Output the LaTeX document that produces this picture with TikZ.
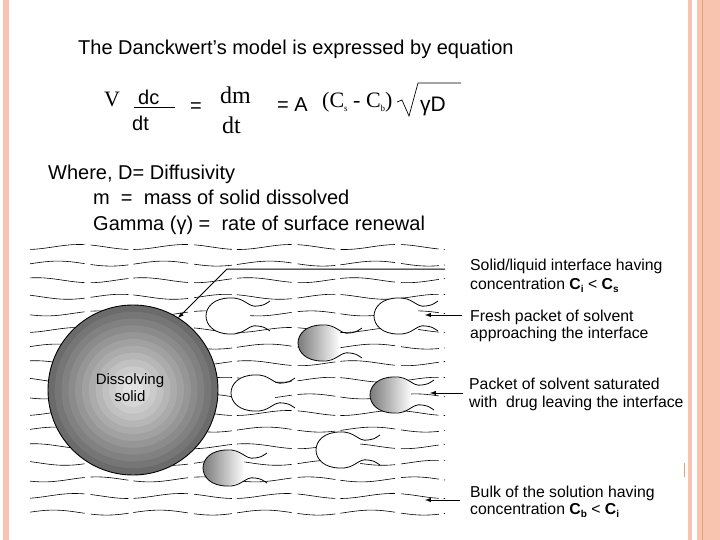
\documentclass[tikz,border=0pt]{standalone}
\usepackage{fontspec}
\setmainfont{Liberation Sans}
\newfontfamily\seriff{Liberation Serif}
\definecolor{peach}{RGB}{248,196,176}
\definecolor{peachline}{RGB}{236,160,120}
\begin{document}
\begin{tikzpicture}[x=1pt,y=-1pt,
  wave/.style={line width=0.6pt},
  lab/.style={anchor=base west,font=\fontsize{15.8}{17}\selectfont,inner sep=0pt},
  arr/.style={-latex,line width=1pt},
  txt/.style={anchor=base west,inner sep=0pt,font=\fontsize{20}{22}\selectfont}]
\useasboundingbox (0,0) rectangle (720,540);
% decorative bars
\fill[peach] (3,0) rectangle (9,540);
\fill[peach] (688,0) rectangle (692,540);
\fill[peach] (697,0) rectangle (720,540);
\draw[peachline,line width=0.8pt] (702,0) -- (702,540);
\draw[peachline,line width=1pt] (684,463) -- (684,477);
% text
\node[txt] (title) at (78,55) {The Danckwert’s model is expressed by equation};
\node[txt,font=\seriff\fontsize{22}{22}\selectfont] (V) at (104,107) {V};
\node[txt] (dc) at (138,105) {dc};
\draw[line width=1pt] (134,108) -- (175,108);
\node[txt] (dt1) at (132,131) {dt};
\node[txt] (eq1) at (190,113) {=};
\node[txt,font=\seriff\fontsize{24}{22}\selectfont] (dm) at (220,104) {dm};
\node[txt,font=\seriff\fontsize{24}{22}\selectfont] (dt2) at (222,134) {dt};
\node[txt] (eq2) at (277,112) {=\ A};
\node[txt,font=\seriff\fontsize{22}{22}\selectfont] (cs) at (322,108) {(C\raisebox{-0.3ex}{\fontsize{9}{9}\selectfont s} - C\raisebox{-0.3ex}{\fontsize{9}{9}\selectfont b})};
\draw[line width=0.7pt] (397,102) -- (402,100) -- (409,116) -- (418,83) -- (461,83);
\node[txt,font=\fontsize{21}{22}\selectfont] (gd) at (420,112) {γD};
\node[txt] (w1) at (48,180) {Where, D= Diffusivity};
\node[txt] (w2) at (93,205) {m \ = \ mass of solid dissolved};
\node[txt] (w3) at (93,230) {Gamma (γ) = \ rate of surface renewal};
% waves
\foreach \i in {0,...,16}{
  \pgfmathsetmacro{\yy}{247+16.6*\i}
  \pgfmathsetmacro{\ph}{mod(\i*73,360)}
  \draw[wave,dash pattern=on 55pt off 6pt on 38pt off 5pt] plot[domain=30:445,samples=90,smooth] (\x,{\yy+2.5*sin(\x*3.4+\ph)});
}
% dissolving solid
\foreach \k in {0,...,11}{
  \pgfmathsetmacro{\r}{85*(1-\k/12.5)}
  \pgfmathsetmacro{\g}{58-4.2*\k}
  \fill[black!\g!white,draw=none] (133,390) circle (\r);
}
\draw[line width=0.9pt] (133,390) circle (85);
\node[align=center,font=\fontsize{15}{17}\selectfont] (ds) at (130,388) {Dissolving\\solid};
% packets
\tikzset{
 pkpath/.style={line width=0.8pt},
 openpk/.pic={
  \fill[white] (10,-18) .. controls (-22,-18) and (-22,18) .. (10,18) -- (30,14) -- (30,-14) -- cycle;
  \draw[pkpath] (50,-15) .. controls (44,-11) .. (38,-10) .. controls (28,-8) and (25,-19) .. (10,-18)
   .. controls (-22,-18) and (-22,18) .. (10,18) .. controls (25,19) and (28,8) .. (38,10) .. controls (44,11) .. (50,15);
 },
 fullpk/.pic={
  \shade[left color=black!62,right color=white] (10,-18) .. controls (-22,-18) and (-22,18) .. (10,18) -- (26,14) -- (28,-14) -- cycle;
  \draw[pkpath] (50,-15) .. controls (44,-11) .. (38,-10) .. controls (28,-8) and (25,-19) .. (10,-18)
   .. controls (-22,-18) and (-22,18) .. (10,18) .. controls (25,19) and (28,8) .. (38,10) .. controls (44,11) .. (50,15);
 }}
\pic at (220,316) {openpk};
\pic at (388,316) {openpk};
\pic at (245,393) {openpk};
\pic at (330,450) {openpk};
\pic at (312,343) {fullpk};
\pic at (384,395) {fullpk};
\pic at (217,468) {fullpk};
% labels
\node[lab] (l1) at (470,270) {Solid/liquid interface having};
\node[lab] (l1b) at (470,289) {concentration \textbf{C\raisebox{-0.4ex}{\fontsize{10}{10}\selectfont i}} < \textbf{C\raisebox{-0.4ex}{\fontsize{10}{10}\selectfont s}}};
\node[lab] (l2) at (470,321) {Fresh packet of solvent};
\node[lab] (l2b) at (470,338) {approaching the interface};
\node[lab] (l3) at (469,389) {Packet of solvent saturated};
\node[lab] (l3b) at (469,407) {with \ drug leaving the interface};
\node[lab] (l4) at (470,497) {Bulk of the solution having};
\node[lab] (l4b) at (470,514) {concentration \textbf{C\raisebox{-0.4ex}{\fontsize{10}{10}\selectfont b}} < \textbf{C\raisebox{-0.4ex}{\fontsize{10}{10}\selectfont i}}};
% arrows
\coordinate (s1) at (445,269);
\coordinate (k1) at (227,269);
\coordinate (t1) at (178,318);
\draw[arr] (s1) -- (k1) -- (t1);
\coordinate (s2) at (462,315); \coordinate (t2) at (425,315);
\coordinate (s3) at (463,393); \coordinate (t3) at (430,393);
\coordinate (s4) at (460,500); \coordinate (t4) at (425,500);
\draw[arr] (s2) -- (t2);
\draw[arr] (s3) -- (t3);
\draw[arr] (s4) -- (t4);
\end{tikzpicture}
\end{document}
